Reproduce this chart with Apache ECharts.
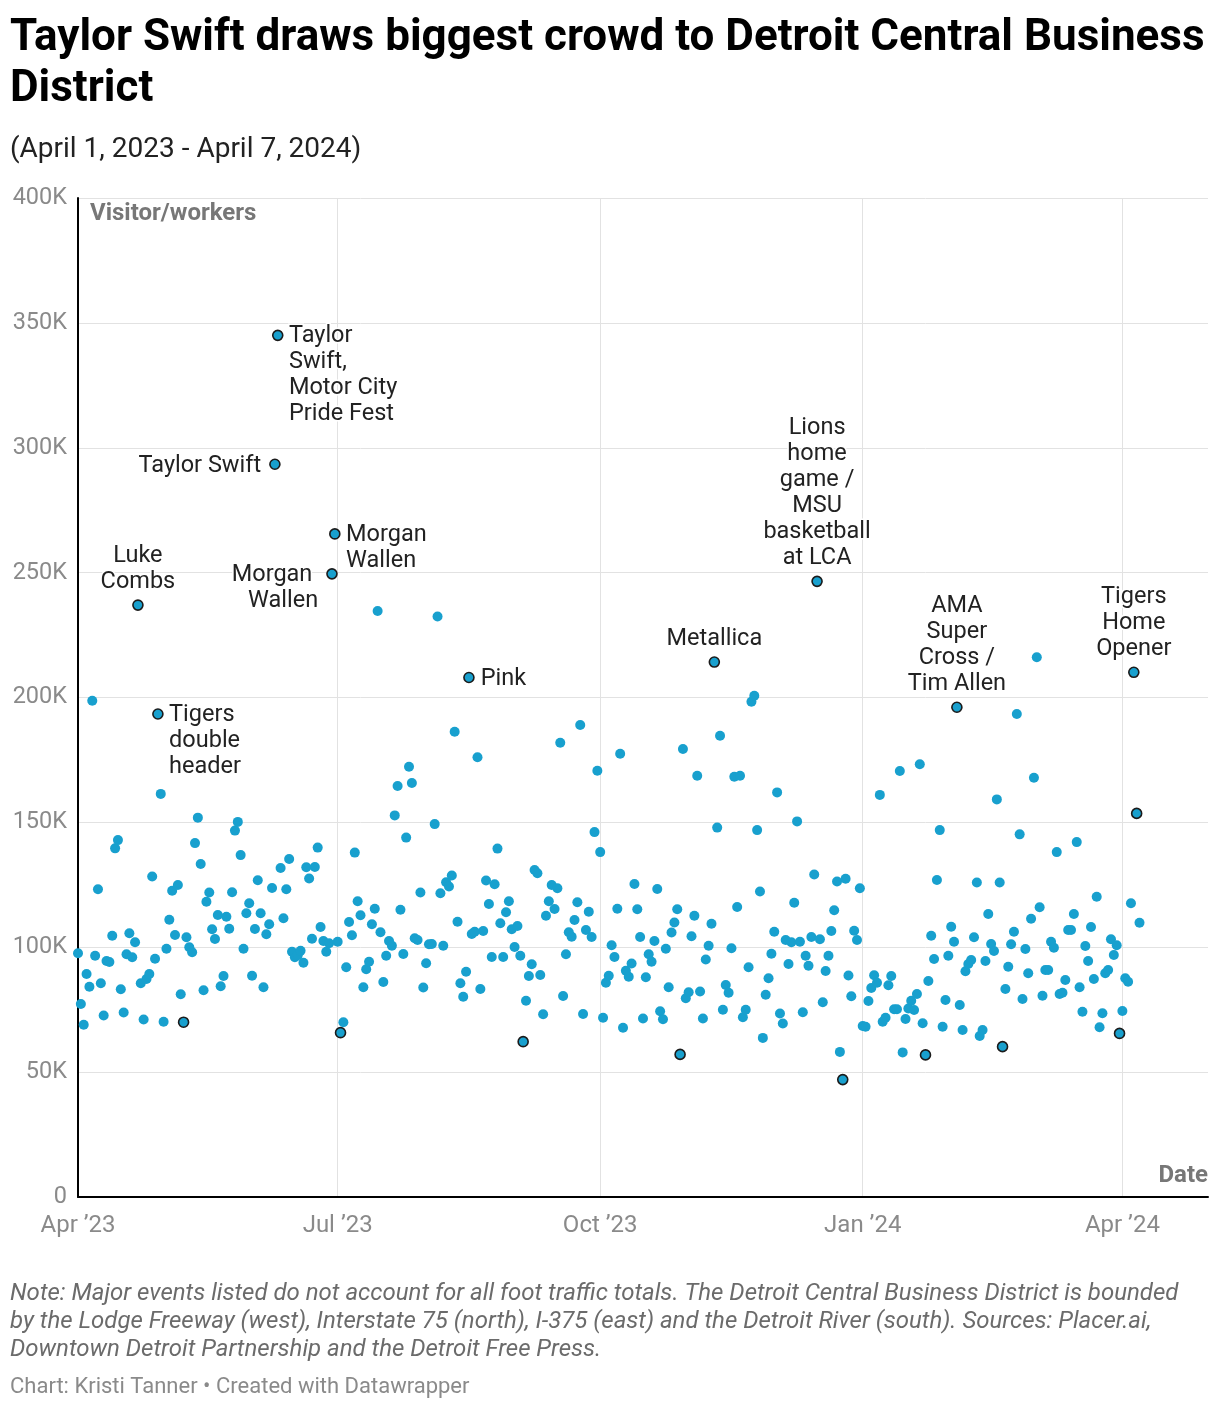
<!DOCTYPE html>
<html>
<head>
<meta charset="utf-8">
<script src="https://cdn.jsdelivr.net/npm/echarts@6/dist/echarts.min.js"></script>
<style>
html,body{margin:0;padding:0;background:#fff;}
#chart{width:1220px;height:1408px;}
</style>
</head>
<body>
<div id="chart"></div>
<script>
// Daily visitor/worker counts (thousands), day 0 = April 1, 2023 ... day 372 = April 7, 2024
const startDate = '2023-04-01';
const visitorsK = [
97.6,77.3,69.0,89.3,84.2,198.7,96.6,123.2,85.6,72.7,
94.5,94.1,104.6,139.6,142.9,83.2,73.9,97.2,105.6,96.0,
102.0,237.0,85.6,71.1,87.3,89.3,128.3,95.4,193.4,161.4,
70.2,99.4,111.0,122.6,104.9,124.9,81.2,70.0,104.0,100.0,
98.0,141.7,151.9,133.3,82.8,118.2,121.9,107.2,103.3,112.9,
84.4,88.5,112.2,107.4,122.0,146.7,150.2,136.9,99.4,113.6,
117.6,88.6,107.3,126.8,113.6,84.0,105.2,109.2,123.7,293.4,
345.0,131.7,111.6,123.2,135.3,98.2,96.0,96.8,98.6,93.8,
132.0,127.5,103.4,132.1,139.9,108.1,102.5,98.2,101.6,249.5,
265.5,102.2,65.8,70.0,92.0,110.1,104.8,137.9,118.4,112.8,
84.0,91.2,94.2,109.2,115.4,234.6,106.0,86.1,96.6,102.5,
100.6,152.8,164.6,115.0,97.3,143.9,172.3,165.8,103.6,102.9,
121.9,83.9,93.6,101.2,101.3,149.3,232.4,121.6,100.6,126.0,
124.3,128.7,186.3,110.2,85.6,80.2,90.2,208.0,105.3,106.2,
176.1,83.3,106.5,126.7,117.3,96.1,125.2,139.5,109.6,96.1,
114.0,118.4,107.2,100.1,108.5,96.6,62.2,78.6,88.5,93.2,
130.9,129.6,88.9,73.2,112.6,118.4,124.9,115.3,123.6,181.9,
80.5,97.2,106.0,104.2,110.9,118.0,189.0,73.3,106.9,114.2,
104.1,146.1,170.7,138.1,71.8,85.8,88.6,100.8,96.1,115.4,
177.5,67.8,90.6,88.2,93.5,125.3,115.2,104.1,71.5,88.0,
97.2,94.2,102.5,123.3,74.4,71.2,99.4,84.0,105.9,109.9,
115.2,57.1,179.4,79.6,82.0,104.4,112.6,168.7,82.3,71.5,
95.1,100.6,109.4,214.2,147.9,184.7,75.0,84.9,81.8,99.6,
168.3,116.1,168.7,72.0,75.0,92.0,198.3,200.7,146.9,122.3,
63.7,81.0,87.6,97.4,106.2,162.0,73.5,69.5,102.9,93.3,
102.0,117.8,150.4,102.2,74.0,96.6,92.6,104.1,129.1,246.5,
103.2,78.0,90.5,96.6,106.5,114.8,126.3,58.1,47.0,127.4,
88.7,80.4,106.6,102.9,123.6,68.5,68.2,78.5,83.7,88.8,
85.8,161.0,70.2,71.8,84.8,88.5,75.2,75.2,170.6,57.9,
71.3,75.5,78.6,74.9,81.3,173.3,69.6,56.9,86.5,104.6,
95.3,126.9,146.9,68.2,78.9,96.6,108.2,102.2,196.1,76.9,
66.9,90.4,93.3,94.9,104.0,125.9,64.5,66.9,94.5,113.3,
101.3,98.5,159.2,125.9,60.2,83.3,92.2,101.2,106.2,193.4,
145.2,79.3,99.3,89.6,111.4,167.9,216.1,116.0,80.6,90.9,
90.9,102.2,99.8,138.1,81.3,81.8,86.9,106.9,106.9,113.3,
142.1,84.0,74.2,100.5,94.5,108.1,87.3,120.2,68.0,73.6,
89.6,90.9,103.2,96.9,100.8,65.5,74.5,87.6,86.2,117.6,
210.1,153.6,109.8
];

// X tick positions (days since April 1, 2023) and labels
const xTickDays = [0, 91, 183, 275, 366];
const xTickLabels = ['Apr \u201923', 'Jul \u201923', 'Oct \u201923', 'Jan \u201924', 'Apr \u201924'];
const yTicks = [0, 50000, 100000, 150000, 200000, 250000, 300000, 350000, 400000];

// Annotated events (day index -> text)
const eventDays = [21, 28, 69, 70, 89, 90, 137, 223, 259, 308, 370];
const eventTexts = [
  'Luke\nCombs',
  'Tigers\ndouble\nheader',
  'Taylor Swift',
  'Taylor\nSwift,\nMotor City\nPride Fest',
  'Morgan \nWallen',
  'Morgan\nWallen',
  'Pink',
  'Metallica',
  'Lions\nhome\ngame /\nMSU\nbasketball\nat LCA',
  'AMA\nSuper\nCross /\nTim Allen',
  'Tigers\nHome\nOpener'
];
// Other outlined (highlighted) points
const outlinedDays = [37, 92, 156, 211, 268, 297, 324, 365, 371];

// Label placement per event (style, kept separate from data)
const eventPlacement = ['top','rightTop','left','rightTop','leftTop','rightTop','right','top','top','top','top'];

const FONT = 'Roboto, "Noto Sans", sans-serif';
const POINT = '#18a0ce';
const SYM = 10;

function labelFor(place, text) {
  const base = {
    show: true, formatter: text, color: '#222', fontFamily: FONT, fontSize: 23.5,
    lineHeight: 26, textBorderColor: '#fff', textBorderWidth: 3
  };
  if (place === 'top') return Object.assign(base, {position: 'top', distance: 4, align: 'center'});
  if (place === 'left') return Object.assign(base, {position: 'left', distance: 8, offset: [0, 2]});
  if (place === 'right') return Object.assign(base, {position: 'right', distance: 6, offset: [0, 2]});
  if (place === 'rightTop') return Object.assign(base, {position: [SYM + 7, SYM / 2 - 11], align: 'left', verticalAlign: 'top'});
  if (place === 'leftTop') return Object.assign(base, {position: [-8, SYM / 2 - 11], align: 'right', verticalAlign: 'top'});
  return base;
}

const normalData = [];
const outlinedData = [];
visitorsK.forEach((v, i) => {
  const ev = eventDays.indexOf(i);
  const item = {value: [i, v * 1000]};
  if (ev >= 0) {
    item.label = labelFor(eventPlacement[ev], eventTexts[ev]);
    outlinedData.push(item);
  } else if (outlinedDays.indexOf(i) >= 0) {
    outlinedData.push(item);
  } else {
    normalData.push(item);
  }
});

const chart = echarts.init(document.getElementById('chart'), null, {renderer: 'canvas'});
chart.setOption({
  animation: false,
  backgroundColor: '#fff',
  title: [
    {text: 'Taylor Swift draws biggest crowd to Detroit Central Business\nDistrict', left: 5, top: 8,
     textStyle: {fontFamily: FONT, fontSize: 44, fontWeight: 'bold', color: '#000', lineHeight: 51}},
    {text: '(April 1, 2023 - April 7, 2024)', left: 5, top: 130,
     textStyle: {fontFamily: FONT, fontSize: 28, fontWeight: 'normal', color: '#222', lineHeight: 30}},
    {text: 'Note: Major events listed do not account for all foot traffic totals. The Detroit Central Business District is bounded\nby the Lodge Freeway (west), Interstate 75 (north), I-375 (east) and the Detroit River (south). Sources: Placer.ai,\nDowntown Detroit Partnership and the Detroit Free Press.',
     left: 5, top: 1275,
     textStyle: {fontFamily: FONT, fontSize: 24, fontStyle: 'italic', fontWeight: 'normal', color: '#6b6b6b', lineHeight: 28}},
    {text: 'Chart: Kristi Tanner \u2022 Created with Datawrapper', left: 5, top: 1370,
     textStyle: {fontFamily: FONT, fontSize: 22, fontWeight: 'normal', color: '#8a8a8a', lineHeight: 24}}
  ],
  grid: {left: 78, right: 12, top: 198, bottom: 211, containLabel: false},
  xAxis: {
    type: 'value', min: 0, max: 396,
    axisLine: {show: true, onZero: false, lineStyle: {color: '#000', width: 2}},
    axisTick: {show: false, customValues: xTickDays},
    splitLine: {show: true, lineStyle: {color: '#e2e2e2', width: 1}},
    axisLabel: {
      customValues: xTickDays, margin: 17, color: '#8a8a8a', fontFamily: FONT, fontSize: 24,
      showMinLabel: true, showMaxLabel: true,
      formatter: v => xTickLabels[xTickDays.indexOf(v)] || ''
    }
  },
  yAxis: {
    type: 'value', min: 0, max: 400000, interval: 50000,
    axisLine: {show: true, lineStyle: {color: '#000', width: 2}},
    axisTick: {show: false},
    splitLine: {show: true, lineStyle: {color: '#e2e2e2', width: 1}},
    axisLabel: {
      margin: 11, color: '#8a8a8a', fontFamily: FONT, fontSize: 23.5,
      formatter: v => (yTicks.indexOf(v) >= 0 ? (v === 0 ? '0' : (v / 1000) + 'K') : '')
    }
  },
  graphic: [
    {type: 'text', left: 90, top: 202, style: {text: 'Visitor/workers', fill: '#777', font: 'bold 24px ' + FONT}},
    {type: 'text', right: 12, top: 1164, style: {text: 'Date', fill: '#777', font: 'bold 24px ' + FONT}}
  ],
  series: [
    {
      type: 'scatter', symbol: 'circle', symbolSize: SYM, z: 3,
      itemStyle: {color: POINT, opacity: 1},
      data: normalData
    },
    {
      type: 'scatter', symbol: 'circle', symbolSize: SYM, z: 4,
      itemStyle: {color: POINT, opacity: 1, borderColor: '#1b1b1b', borderWidth: 1.6},
      data: outlinedData
    }
  ]
});
</script>
</body>
</html>
